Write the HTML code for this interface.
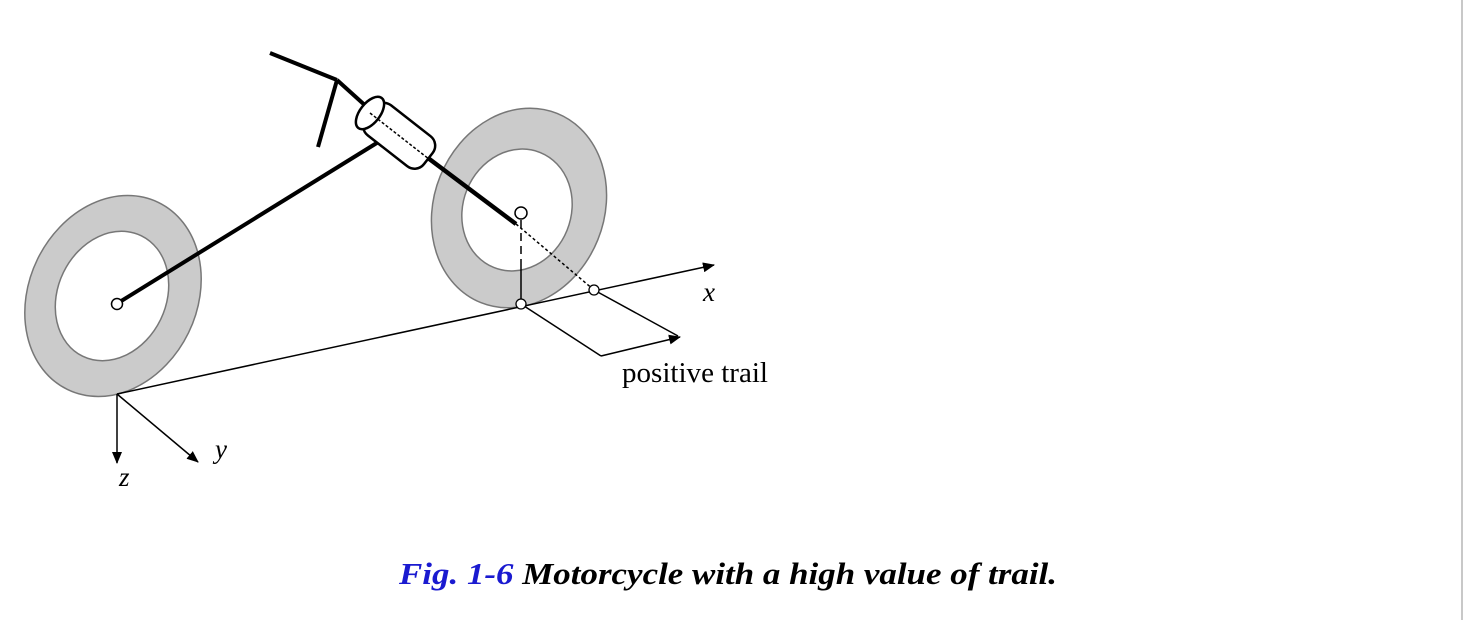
<!DOCTYPE html>
<html><head><style>
html,body{margin:0;padding:0;background:#fff;}
body{width:1464px;height:620px;overflow:hidden;position:relative;}
</style></head><body>
<svg width="1464" height="620" viewBox="0 0 1464 620" xmlns="http://www.w3.org/2000/svg" style="position:absolute;left:0;top:0">
<defs>
<marker id="ah" markerWidth="12" markerHeight="10" refX="11" refY="5" orient="auto" markerUnits="userSpaceOnUse">
<path d="M0,0 L12,5 L0,10 Z" fill="#000"/></marker>
</defs>
<rect x="1461" y="0" width="2" height="620" fill="#c8c8c8"/>
<!-- rear wheel -->
<ellipse cx="113" cy="296" rx="84" ry="104" transform="rotate(26 113 296)" fill="#cbcbcb" stroke="#777" stroke-width="1.5"/>
<ellipse cx="112" cy="296" rx="54" ry="67" transform="rotate(26 112 296)" fill="#fff" stroke="#777" stroke-width="1.5"/>
<!-- front wheel -->
<ellipse cx="519" cy="208" rx="85" ry="102" transform="rotate(22 519 208)" fill="#cbcbcb" stroke="#777" stroke-width="1.5"/>
<ellipse cx="517" cy="210" rx="54" ry="62" transform="rotate(22 517 210)" fill="#fff" stroke="#777" stroke-width="1.5"/>
<!-- frame -->
<line x1="118" y1="303" x2="380" y2="141" stroke="#000" stroke-width="4"/>
<line x1="270" y1="53" x2="337" y2="80" stroke="#000" stroke-width="4"/>
<line x1="337" y1="80" x2="318" y2="147" stroke="#000" stroke-width="4"/>
<line x1="337" y1="80" x2="368" y2="108" stroke="#000" stroke-width="4"/>
<line x1="428" y1="158" x2="516" y2="224" stroke="#000" stroke-width="4.5"/>
<!-- cylinder -->
<g transform="translate(370,113) rotate(38)">
<rect x="0" y="-19" width="74" height="38" rx="12" fill="#fff" stroke="#000" stroke-width="2.5"/>
<ellipse cx="0" cy="0" rx="10" ry="19" fill="#fff" stroke="#000" stroke-width="2.5"/>
<line x1="0" y1="0" x2="74" y2="0" stroke="#000" stroke-width="1.5" stroke-dasharray="3,2"/>
</g>
<!-- steering axis extension -->
<line x1="516" y1="224" x2="594" y2="290" stroke="#000" stroke-width="1.5" stroke-dasharray="3,2.5"/>
<line x1="521" y1="220" x2="521" y2="262" stroke="#000" stroke-width="1.5" stroke-dasharray="8,5"/>
<line x1="521" y1="262" x2="521" y2="304" stroke="#000" stroke-width="1.5"/>
<!-- ground / x axis -->
<line x1="117" y1="394" x2="714" y2="265" stroke="#000" stroke-width="1.5" marker-end="url(#ah)"/>
<!-- trail -->
<line x1="521" y1="304" x2="601" y2="356" stroke="#000" stroke-width="1.5"/>
<line x1="594" y1="290" x2="678" y2="336" stroke="#000" stroke-width="1.5"/>
<line x1="601" y1="356" x2="680" y2="337" stroke="#000" stroke-width="1.5" marker-end="url(#ah)"/>
<!-- axes -->
<line x1="117" y1="394" x2="117" y2="463" stroke="#000" stroke-width="1.5" marker-end="url(#ah)"/>
<line x1="117" y1="394" x2="198" y2="462" stroke="#000" stroke-width="1.5" marker-end="url(#ah)"/>
<!-- hubs -->
<circle cx="117" cy="304" r="5.5" fill="#fff" stroke="#000" stroke-width="1.5"/>
<circle cx="521" cy="213" r="6" fill="#fff" stroke="#000" stroke-width="1.5"/>
<circle cx="521" cy="304" r="5" fill="#fff" stroke="#000" stroke-width="1.3"/>
<circle cx="594" cy="290" r="5" fill="#fff" stroke="#000" stroke-width="1.3"/>
<!-- labels -->
<g font-family="'Liberation Serif',serif" fill="#000">
<text x="703" y="301" font-size="27" font-style="italic">x</text>
<text x="622" y="382" font-size="28" textLength="146" lengthAdjust="spacingAndGlyphs">positive trail</text>
<text x="119" y="486" font-size="27" font-style="italic">z</text>
<text x="215" y="458" font-size="27" font-style="italic">y</text>
<text x="399" y="584" font-size="31" font-weight="bold" font-style="italic" textLength="658" lengthAdjust="spacingAndGlyphs"><tspan fill="#1a1ad0">Fig. 1-6</tspan> Motorcycle with a high value of trail.</text>
</g>
</svg>
</body></html>
